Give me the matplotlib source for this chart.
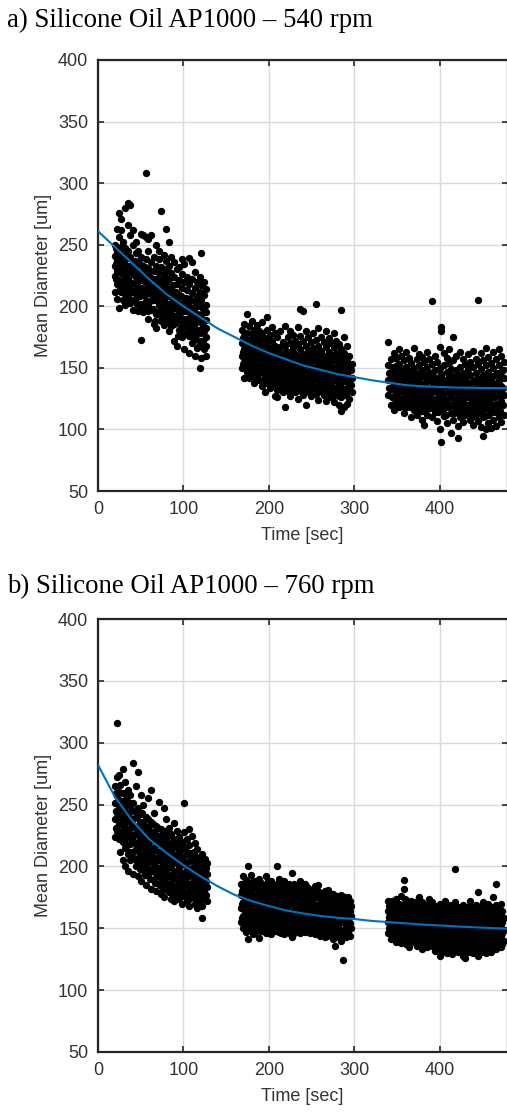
import numpy as np
import matplotlib.pyplot as plt

# ========== DATA ==========

# Panel a) 540 rpm - three measurement windows, one list of diameters per time column
A1_T = [20, 22, 24, 27, 29, 32, 35, 38, 41, 44, 47, 50, 53, 56, 59, 62, 65, 68, 71, 74, 77, 80, 83, 86, 89,
        92, 95, 98, 101, 104, 107, 110, 113, 116, 119, 121, 124, 127]
A1_D = [[212, 225, 233, 241, 250], [263, 218, 229, 237, 245, 206], [276, 221, 231, 240, 256, 199],
        [271, 212, 227, 236, 248, 262], [205, 219, 232, 242, 252], [280, 201, 214, 224, 238, 247],
        [284, 266, 209, 222, 233, 245], [282, 258, 203, 217, 229, 240], [262, 197, 212, 226, 236, 250],
        [252, 207, 219, 231, 243], [245, 196, 210, 224, 235], [173, 259, 202, 215, 228, 240],
        [258, 195, 209, 221, 233], [308, 256, 204, 214, 227, 238], [255, 190, 200, 219, 231, 245],
        [258, 197, 210, 223, 236], [186, 205, 215, 229, 240], [182, 194, 212, 222, 233, 250],
        [201, 216, 227, 238, 245], [277, 188, 198, 210, 221, 232], [185, 205, 214, 226, 242],
        [263, 193, 201, 219, 230, 237], [252, 180, 196, 208, 222, 233], [190, 203, 214, 227, 240],
        [172, 186, 199, 211, 224, 236], [168, 193, 206, 218, 230], [181, 197, 209, 221, 232],
        [175, 188, 202, 215, 226, 238], [165, 184, 196, 207, 220, 234], [178, 190, 201, 213, 224],
        [162, 182, 195, 206, 218, 239], [170, 186, 199, 211, 222, 236], [160, 176, 190, 204, 215, 228],
        [166, 181, 194, 208, 220], [150, 172, 187, 200, 212, 224], [243, 158, 178, 193, 205, 217],
        [165, 180, 196, 209, 220], [160, 175, 189, 201, 214]]
# denser core of the same window
A1F_T = [21, 26, 30, 33, 36, 40, 43, 46, 49, 52, 55, 58, 61, 64, 67, 70, 73, 76, 79, 82, 85, 88, 91, 94,
         97, 100, 103, 106, 109, 112, 115, 118, 123, 126]
A1F_D = [[222, 234, 247], [216, 233, 243], [211, 226, 237], [207, 219, 231], [215, 228, 239], [205, 219, 231],
         [213, 225, 237], [202, 217, 229], [208, 221, 234], [199, 213, 226], [209, 220, 232], [196, 212, 225],
         [204, 216, 229], [198, 210, 222], [188, 205, 217], [195, 209, 221], [193, 204, 215], [190, 201, 219],
         [197, 210, 224], [188, 202, 214], [184, 197, 209], [192, 205, 217], [187, 199, 212], [176, 191, 203],
         [183, 195, 208], [178, 190, 201], [184, 196, 207], [176, 188, 200], [180, 193, 205], [173, 184, 196],
         [177, 188, 200], [168, 181, 193], [172, 185, 198], [168, 182, 195]]

A2_T = [168, 171, 174, 177, 180, 183, 186, 189, 192, 195, 198, 201, 204, 207, 210, 213, 216, 219, 222,
        225, 228, 231, 234, 237, 240, 243, 246, 249, 252, 255, 258, 261, 264, 267, 270, 273, 276, 279,
        282, 285, 288, 291, 294, 297]
A2_D = [[150, 160, 170, 181], [142, 155, 165, 176, 186], [194, 147, 158, 168, 178], [142, 152, 162, 173, 184],
        [148, 157, 167, 178, 188], [138, 150, 161, 171, 181], [145, 155, 165, 176, 185],
        [140, 151, 160, 170, 180], [135, 147, 157, 168, 178, 187], [130, 144, 154, 164, 174],
        [191, 138, 150, 160, 171, 181], [134, 146, 156, 166, 177], [140, 151, 162, 172, 183],
        [127, 137, 148, 158, 168, 178], [126, 143, 153, 164, 175], [133, 145, 156, 167, 180],
        [130, 139, 150, 160, 171], [118, 136, 147, 157, 168, 184], [131, 142, 152, 163, 175],
        [127, 138, 149, 159, 170, 180], [134, 145, 155, 166, 177], [130, 141, 151, 161, 172],
        [125, 137, 148, 158, 169, 183], [198, 133, 144, 154, 165, 176], [196, 128, 140, 151, 161, 172],
        [120, 136, 147, 157, 168, 180], [131, 142, 153, 164, 175], [127, 138, 149, 160, 171],
        [134, 145, 156, 166, 178], [202, 129, 141, 151, 162, 173], [124, 136, 147, 158, 168, 182],
        [132, 143, 154, 164, 175], [128, 139, 150, 160, 171], [123, 135, 146, 157, 167, 180],
        [131, 142, 152, 163, 174], [126, 138, 148, 159, 170], [122, 134, 145, 156, 167, 178],
        [130, 141, 151, 162, 172], [120, 127, 138, 149, 160, 169], [197, 115, 133, 144, 155, 165],
        [118, 129, 140, 151, 162, 175], [121, 134, 145, 157, 168], [125, 137, 148, 160], [130, 142, 153]]
A2F_T = [170, 173, 176, 179, 182, 185, 188, 191, 194, 197, 200, 203, 206, 209, 212, 215, 218, 221, 224,
         227, 230, 233, 236, 239, 242, 245, 248, 251, 254, 257, 260, 263, 266, 269, 272, 275, 278, 281,
         284, 287, 290, 293, 296]
A2F_D = [[153, 163, 174], [150, 161, 172], [148, 157, 170], [145, 162, 173], [155, 166, 176], [141, 150, 160],
         [146, 156, 175], [152, 163, 173], [141, 151, 161], [145, 155, 166], [140, 151, 161], [135, 145, 157],
         [143, 153, 163], [132, 147, 159], [139, 150, 161], [135, 144, 155], [141, 152, 162], [136, 147, 158],
         [133, 144, 154], [140, 150, 161], [135, 146, 156], [131, 142, 153], [138, 149, 160], [133, 145, 156],
         [130, 141, 152], [136, 147, 158], [132, 143, 154], [139, 150, 161], [134, 145, 156], [130, 141, 152],
         [137, 148, 159], [133, 144, 155], [129, 140, 151], [136, 147, 158], [131, 143, 154], [127, 139, 150],
         [134, 145, 156], [130, 142, 153], [126, 138, 149], [133, 145, 156], [128, 139, 151], [131, 142, 154],
         [136, 148]]

A3_T = [340, 343, 346, 349, 352, 355, 358, 361, 364, 367, 370, 373, 376, 379, 382, 385, 388, 391, 394,
        397, 400, 402, 405, 408, 411, 413, 416, 419, 421, 424, 427, 430, 433, 436, 439, 442, 445, 448,
        451, 454, 457, 460, 463, 466, 469, 472, 475]
A3_D = [[171, 128, 140, 152], [120, 133, 145, 157], [116, 127, 138, 150, 162], [122, 134, 146, 158],
        [118, 130, 141, 153, 165], [125, 136, 148, 160], [113, 121, 133, 144, 156],
        [118, 129, 140, 151, 163], [124, 135, 147, 158], [110, 120, 131, 142, 154],
        [116, 127, 138, 150, 166], [112, 123, 134, 145, 157], [119, 130, 141, 152, 161],
        [108, 115, 126, 137, 148, 159], [104, 121, 132, 144, 155], [112, 117, 128, 139, 151, 163],
        [123, 134, 146, 157], [204, 110, 119, 130, 141, 153], [114, 125, 136, 148, 160],
        [107, 120, 131, 142, 155], [100, 116, 127, 138, 150, 167], [183, 180, 90, 122, 133, 145],
        [111, 118, 129, 140, 152, 162], [105, 124, 135, 147, 158], [120, 131, 143, 154, 165],
        [97, 113, 126, 137, 149], [175, 108, 119, 130, 142, 156], [114, 125, 136, 148, 160],
        [93, 103, 121, 132, 144], [110, 117, 128, 139, 151, 163], [106, 123, 134, 146, 157],
        [112, 119, 130, 141, 153], [115, 126, 137, 149, 161], [108, 121, 132, 144, 155],
        [104, 117, 128, 139, 151, 164], [112, 123, 134, 146, 157], [205, 107, 119, 130, 141, 153],
        [102, 114, 125, 137, 149, 162], [95, 110, 121, 132, 144, 156], [100, 117, 128, 140, 152, 166],
        [105, 112, 124, 135, 147, 159], [101, 119, 130, 142, 154], [108, 115, 126, 138, 150, 163],
        [103, 121, 133, 145, 157], [110, 117, 128, 140, 152, 165], [106, 123, 135, 147, 160],
        [112, 128, 142, 155]]
A3F_T = [341, 344, 347, 350, 353, 356, 359, 362, 365, 368, 371, 374, 377, 380, 383, 386, 389, 392, 395,
         398, 401, 404, 407, 410, 414, 417, 420, 423, 426, 429, 432, 435, 438, 441, 444, 447, 450, 453,
         456, 459, 462, 465, 468, 471, 474]
A3F_D = [[134, 146], [126, 139, 151], [121, 133, 144], [128, 140, 152], [124, 135, 147], [119, 131, 142],
         [127, 138, 150], [123, 135, 146], [118, 129, 141], [125, 137, 148], [121, 132, 144], [117, 128, 140],
         [124, 135, 147], [120, 131, 143], [115, 126, 138], [122, 133, 145], [117, 129, 140], [124, 136, 147],
         [119, 131, 142], [114, 126, 137], [121, 133, 144], [116, 127, 139], [112, 123, 135], [118, 130, 141],
         [120, 132, 143], [113, 125, 136], [118, 130, 141], [114, 125, 137], [119, 131, 142], [115, 126, 137],
         [120, 132, 143], [114, 127, 138], [110, 122, 133], [117, 128, 140], [113, 124, 136], [118, 130, 141],
         [115, 126, 138], [111, 123, 134], [118, 129, 141], [113, 125, 136], [120, 131, 143], [114, 126, 137],
         [119, 134, 146], [115, 129, 141], [120, 134, 148]]

# Panel b) 760 rpm
B1_T = [20, 22, 24, 26, 29, 32, 35, 38, 41, 44, 47, 50, 53, 56, 59, 62, 65, 68, 71, 74, 77, 80, 83, 86,
        89, 92, 95, 98, 101, 104, 107, 110, 113, 116, 119, 122, 125, 128]
B1_D = [[224, 238, 251, 265], [316, 229, 243, 257, 272], [222, 234, 247, 260, 274], [212, 228, 240, 253, 266],
        [205, 220, 233, 246, 259, 279], [200, 215, 228, 241, 254, 268], [196, 210, 224, 237, 250, 262],
        [205, 218, 231, 244, 258], [194, 212, 225, 238, 251, 284], [200, 214, 227, 240, 265],
        [192, 207, 220, 233, 247, 276], [188, 203, 216, 229, 242, 258], [197, 210, 223, 236, 250],
        [185, 201, 214, 227, 240], [193, 206, 219, 232, 255], [182, 197, 210, 223, 236, 262],
        [189, 202, 215, 228, 243], [180, 194, 207, 220, 233], [186, 199, 212, 225, 252],
        [178, 191, 204, 217, 230], [175, 188, 201, 214, 227, 247], [184, 197, 210, 223, 238],
        [179, 192, 205, 218, 231], [174, 187, 200, 213, 226], [172, 183, 196, 209, 222, 235],
        [178, 190, 203, 216, 229], [174, 186, 199, 212, 224], [170, 182, 194, 207, 220],
        [251, 176, 189, 202, 215, 228], [172, 185, 197, 210, 222], [168, 180, 192, 204, 217, 230],
        [175, 187, 199, 211, 225], [170, 182, 194, 206, 219], [166, 178, 190, 202, 214],
        [172, 184, 196, 208], [158, 168, 180, 192, 204, 210], [174, 186, 198, 206], [172, 183, 194, 203]]
B1F_T = [21, 25, 28, 31, 34, 37, 40, 43, 46, 49, 52, 55, 58, 61, 64, 67, 70, 73, 76, 79, 82, 85, 88, 91,
         94, 97, 100, 103, 106, 109, 112, 115, 118, 121, 124, 127]
B1F_D = [[231, 245, 259], [228, 241, 254], [224, 238, 251], [221, 234, 247], [217, 230, 243, 256],
         [212, 226, 238, 251], [208, 221, 233, 246], [206, 219, 232, 245], [203, 215, 227, 240],
         [198, 210, 223, 236], [204, 217, 229, 243], [193, 207, 220, 233], [199, 212, 225, 238],
         [190, 204, 216, 229], [196, 208, 221, 234], [187, 200, 213, 226], [192, 205, 218, 231],
         [185, 197, 210, 223], [181, 194, 207, 220], [190, 203, 216, 229], [186, 199, 212, 225],
         [181, 193, 206, 219], [177, 190, 203, 215], [184, 196, 209, 220], [180, 192, 205, 217],
         [176, 188, 201, 213], [183, 195, 208], [178, 191, 203, 216], [174, 186, 198, 211], [181, 193, 205],
         [176, 188, 200, 212], [172, 184, 196, 208], [178, 190, 202], [174, 186, 198], [179, 191, 202],
         [177, 188, 199]]

B2_T = [167, 170, 173, 176, 179, 182, 185, 188, 191, 194, 197, 200, 203, 206, 209, 212, 215, 218, 221,
        224, 227, 230, 233, 236, 239, 242, 245, 248, 251, 254, 257, 260, 263, 266, 269, 272, 275, 278,
        281, 284, 287, 290, 293, 296]
B2_D = [[155, 166, 177, 186], [150, 160, 171, 182, 192], [147, 157, 168, 179, 189],
        [141, 153, 164, 175, 186, 200], [149, 159, 170, 181, 193], [145, 156, 167, 178, 188],
        [150, 161, 172, 183], [142, 155, 166, 177, 190], [148, 158, 169, 180, 187], [152, 163, 174, 185],
        [146, 157, 168, 179, 192], [150, 161, 172, 183], [145, 155, 166, 177, 188], [149, 159, 170, 181],
        [153, 164, 175, 186, 200], [147, 158, 168, 179, 190], [151, 162, 173, 184],
        [145, 155, 166, 177, 188], [149, 160, 171, 182], [146, 154, 164, 175, 186],
        [143, 152, 162, 173, 184, 195], [148, 158, 169, 180], [151, 161, 172, 183],
        [146, 156, 167, 178, 188], [150, 160, 170, 181], [147, 155, 165, 176, 186], [152, 162, 173, 183],
        [146, 157, 167, 178], [150, 160, 171, 181], [145, 155, 165, 175, 184], [149, 159, 169, 180, 185],
        [144, 153, 163, 174], [148, 158, 168, 178], [143, 152, 162, 172, 180], [147, 157, 167, 181],
        [145, 155, 165, 175], [141, 150, 160, 170, 178], [136, 146, 156, 166, 176], [144, 153, 163, 173],
        [140, 149, 159, 169, 177], [124, 145, 155, 165, 174], [143, 152, 162, 171], [147, 157, 166, 175],
        [150, 160, 168]]
B2F_T = [169, 172, 175, 178, 181, 184, 187, 190, 193, 196, 199, 202, 205, 208, 211, 214, 217, 220, 223,
         226, 229, 232, 235, 238, 241, 244, 247, 250, 253, 256, 259, 262, 265, 268, 271, 274, 277, 280,
         283, 286, 289, 292, 295]
B2F_D = [[158, 170, 180], [153, 164, 175, 185], [150, 160, 171, 182], [154, 165, 176, 187], [151, 162, 173, 183],
         [146, 156, 166, 177, 188], [150, 160, 171, 182], [153, 164, 175], [148, 157, 168, 179],
         [151, 162, 173, 184], [146, 155, 166, 177, 188], [150, 160, 171, 181], [153, 163, 174, 185],
         [148, 157, 167, 178], [151, 161, 172, 183], [146, 156, 166, 177, 187], [150, 160, 171, 181],
         [153, 163, 174, 185], [148, 158, 169, 179], [151, 161, 171, 181], [146, 155, 165, 176, 186],
         [150, 160, 170, 179], [152, 162, 173, 183], [147, 157, 166, 176], [151, 161, 171, 181],
         [148, 157, 167, 178], [152, 162, 172, 182], [147, 156, 166, 176], [150, 160, 170, 179],
         [146, 156, 166, 175], [149, 158, 168, 177], [145, 154, 164, 173], [148, 157, 167, 176],
         [144, 153, 163, 172], [149, 159, 169, 178], [146, 156, 166, 174], [143, 153, 163, 172],
         [148, 158, 167, 176], [144, 155, 165, 172], [148, 158, 168], [146, 156, 165, 175], [150, 160, 169],
         [144, 154, 164, 172]]

B3_T = [340, 343, 346, 349, 352, 355, 358, 361, 364, 367, 370, 373, 376, 379, 382, 385, 388, 391, 394,
        397, 400, 403, 406, 409, 412, 415, 418, 421, 424, 427, 430, 433, 436, 439, 442, 445, 448, 451,
        454, 457, 460, 463, 466, 469, 472, 475]
B3_D = [[146, 155, 164, 172], [141, 150, 159, 168], [144, 153, 162, 171], [139, 148, 157, 166, 174],
        [143, 152, 161, 170], [138, 147, 156, 165, 176], [182, 189, 142, 151, 160, 169],
        [137, 146, 155, 164, 173], [135, 141, 150, 159, 168], [145, 154, 163, 172], [139, 148, 157, 166],
        [136, 143, 152, 161, 170], [140, 149, 158, 167, 175], [133, 144, 153, 162, 171],
        [138, 147, 156, 165], [135, 142, 151, 160, 169], [139, 148, 157, 166, 174],
        [136, 144, 153, 162, 171], [132, 141, 150, 159, 168], [137, 146, 155, 164],
        [128, 134, 143, 152, 161, 170], [131, 139, 148, 157, 166], [135, 144, 153, 162, 172],
        [130, 140, 149, 158, 167], [133, 142, 151, 160, 169], [129, 138, 147, 156, 165],
        [198, 134, 143, 152, 161, 171], [131, 140, 149, 158, 167], [136, 145, 154, 163],
        [128, 133, 142, 151, 160, 169], [126, 137, 146, 155, 164], [131, 140, 149, 158, 167],
        [135, 144, 153, 162, 172], [130, 139, 148, 157, 166], [133, 142, 151, 160, 169],
        [179, 128, 138, 147, 156, 165], [131, 141, 150, 159, 168], [135, 144, 153, 162, 171],
        [130, 139, 148, 157, 166], [134, 143, 152, 161, 170], [131, 140, 149, 158, 167],
        [136, 145, 154, 163, 175], [186, 133, 142, 151, 160, 169], [138, 147, 156, 165],
        [135, 144, 153, 162, 170], [140, 149, 158]]
B3F_T = [341, 344, 347, 350, 353, 356, 359, 362, 365, 368, 371, 374, 377, 380, 383, 386, 389, 392, 395,
         398, 401, 404, 407, 410, 413, 416, 419, 422, 425, 428, 431, 434, 437, 440, 443, 446, 449, 452,
         455, 458, 461, 464, 467, 470, 473]
B3F_D = [[150, 159, 168], [145, 154, 163, 172], [148, 157, 166], [143, 152, 161, 170], [147, 156, 165],
         [142, 151, 160, 169], [146, 155, 164, 174], [141, 150, 159, 168], [145, 154, 163],
         [140, 149, 158, 167], [144, 153, 162, 171], [139, 148, 157, 166], [144, 153, 162],
         [138, 148, 157, 166], [142, 151, 160, 169], [138, 146, 155, 164], [143, 152, 161, 170],
         [140, 149, 158, 166], [136, 145, 154, 163], [141, 150, 159, 168], [138, 147, 156, 165],
         [135, 144, 153, 162], [140, 149, 158, 167], [136, 145, 154, 163], [138, 147, 156, 165],
         [134, 143, 152, 161], [139, 148, 157, 166], [135, 144, 153, 162], [131, 140, 149, 158, 167],
         [137, 146, 155, 164], [133, 142, 151, 160], [136, 145, 154, 163], [131, 140, 149, 158, 167],
         [135, 144, 153, 162], [138, 147, 156, 165], [133, 142, 151, 160], [136, 145, 154, 163],
         [132, 141, 150, 159, 168], [135, 144, 153, 162], [138, 147, 156, 165], [134, 143, 152, 161],
         [139, 148, 157, 166], [135, 144, 153, 162], [140, 149, 158, 167], [137, 146, 155, 164]]

# Exponential fit curves, read every 20 s
FIT_T = [0, 20, 40, 60, 80, 100, 120, 140, 160, 180, 200, 220, 240, 260, 280, 300, 320, 340, 360, 380,
         400, 420, 440, 460, 480]
A_FIT = [261, 248, 235, 222, 210, 200, 191, 182, 175, 168, 162, 157, 152, 148.5, 145, 142.5, 140, 138,
         136, 135, 134.5, 134, 133.8, 133.6, 133.5]
B_FIT = [282, 256, 237, 222, 211, 201, 192, 184, 177, 172, 168, 164.5, 162, 160, 158.5, 157.5, 156, 155,
         154, 153, 152.3, 151.5, 150.8, 150.2, 149.7]

TITLES = ["a) Silicone Oil AP1000 \u2013 540 rpm", "b) Silicone Oil AP1000 \u2013 760 rpm"]

# ========== STYLE ==========
W, H = 507, 1113
TEXT_C = '#333333'
AX_C = '#262626'
FIT_C = '#0072BD'
plt.rcParams['font.family'] = ['Liberation Sans', 'DejaVu Sans']


def flatten(times, groups):
    # one (t, d) pair per dot
    t, d = [], []
    for ti, g in zip(times, groups):
        t += [ti] * len(g)
        d += g
    return t, d


def draw_panel(ax, clusters, fit):
    for times, groups in clusters:
        t, d = flatten(times, groups)
        ax.plot(t, d, 'o', color='black', ms=5.3, mew=0, zorder=3)
    ax.plot(FIT_T, fit, color=FIT_C, lw=1.5, zorder=4)

    # the right edge of the box sits just past the picture edge
    ax.set_xlim(0, 480)
    ax.set_ylim(50, 400)
    ax.set_xticks([0, 100, 200, 300, 400])
    ax.set_yticks([50, 100, 150, 200, 250, 300, 350, 400])
    ax.grid(True, color='#dadada', lw=1.0)
    ax.set_axisbelow(True)
    ax.tick_params(direction='in', top=True, right=True, length=4, width=1.2, color=AX_C,
                   labelsize=13, labelcolor=TEXT_C, pad=7)
    for sp in ax.spines.values():
        sp.set_linewidth(1.6)
        sp.set_color(AX_C)

    ax.set_xlabel('Time [sec]', fontsize=13, color=TEXT_C)
    ax.set_ylabel('Mean Diameter [um]', fontsize=13, color=TEXT_C)
    ax.xaxis.set_label_coords(204 / 410, -0.083)
    ax.yaxis.set_label_coords(-0.111, 0.5)


fig = plt.figure(figsize=(W / 100, H / 100), dpi=100)

# axes boxes in pixels: left, top, right, bottom
boxes = [(98, 60, 508, 491), (98, 619, 508, 1052)]
panels = [
    ([(A1_T, A1_D), (A1F_T, A1F_D), (A2_T, A2_D), (A2F_T, A2F_D), (A3_T, A3_D), (A3F_T, A3F_D)], A_FIT),
    ([(B1_T, B1_D), (B1F_T, B1F_D), (B2_T, B2_D), (B2F_T, B2F_D), (B3_T, B3_D), (B3F_T, B3F_D)], B_FIT),
]
title_y = [27, 593]

for (l, t, r, b), (clusters, fit), title, ty in zip(boxes, panels, TITLES, title_y):
    ax = fig.add_axes([l / W, 1 - b / H, (r - l) / W, (b - t) / H])
    draw_panel(ax, clusters, fit)
    fig.text(7 / W, 1 - ty / H, title, fontsize=19.3, family='Liberation Serif',
             color='black', va='baseline', ha='left')

fig.savefig('out.png', dpi=100)
